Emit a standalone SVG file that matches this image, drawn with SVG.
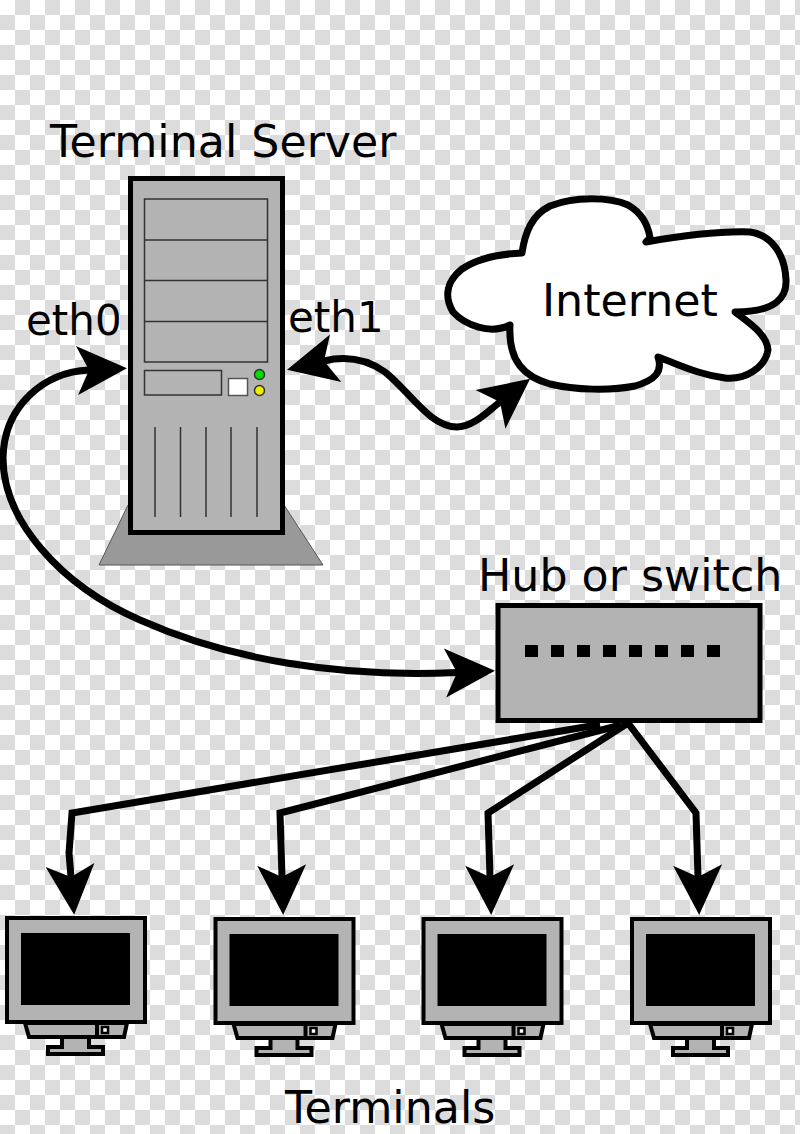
<svg xmlns="http://www.w3.org/2000/svg" xmlns:xlink="http://www.w3.org/1999/xlink" width="800" height="1134" viewBox="0 0 800 1134">
<style>
text{font-family:"DejaVu Sans",sans-serif;fill:#000}
.lbl{font-size:44.300px}
.eth{font-size:42px}
.body{fill:#b3b3b3;stroke:#000}
.thin{fill:none;stroke:#333;stroke-width:1.5}
.wire{fill:none;stroke:#000;stroke-width:7}
.mon{fill:#b3b3b3;stroke:#000;stroke-width:4}
</style>
<defs>
<pattern id="chk" width="30" height="30" patternUnits="userSpaceOnUse">
<rect width="30" height="30" fill="#fff"/>
<rect x="15" y="0" width="15" height="15" fill="#dcdcdc"/>
<rect x="0" y="15" width="15" height="15" fill="#dcdcdc"/>
</pattern>
<marker id="head" markerUnits="userSpaceOnUse" orient="auto-start-reverse" markerWidth="60" markerHeight="60" refX="14" refY="30" overflow="visible">
<path d="M52,30 L2,5.500 L14,30 L2,54.500 Z" fill="#000"/>
</marker>
<g id="monitor">
<rect class="mon" x="7" y="918" width="138" height="104"/>
<rect x="21" y="933" width="109" height="72" fill="#000"/>
<path class="mon" d="M25,1023 L29,1037 L124,1037 L127,1023 Z"/>
<path d="M97,1023 V1037" stroke="#000" stroke-width="4"/>
<rect x="102" y="1027" width="6" height="6" fill="#fff" stroke="#000" stroke-width="2.500"/>
<path class="mon" d="M62,1037 V1047 H48 V1054 H103 V1047 H89 V1037 Z"/>
</g>
</defs>
<rect id="background" width="800" height="1134" fill="url(#chk)"/>
<g id="connectors">
<path class="wire" marker-start="url(#head)" marker-end="url(#head)" d="M89,370 C45,372 4,405 3,458 C3,520 60,585 140,620 C230,660 340,678 457,672.500"/>
<path class="wire" marker-start="url(#head)" marker-end="url(#head)" d="M324,361 C345,356 365,358 385,372 C410,392 430,427 457,427 C473,427 487,412 500,402"/>
<path class="wire" marker-end="url(#head)" d="M600,724.500 L72,813 L69,853 L71,877"/>
<path class="wire" marker-end="url(#head)" d="M621,725 L280,813 L282,877"/>
<path class="wire" marker-end="url(#head)" d="M628,723 L488,813 L490,877"/>
<path class="wire" marker-end="url(#head)" d="M628,723 L696,813 L698,877"/>
</g>
<g id="server">
<path d="M128,505 L99,565 H323 L284,505 Z" fill="#999" stroke="#555" stroke-width="1"/>
<rect class="body" x="130.500" y="178.500" width="152" height="354" stroke-width="5"/>
<rect class="thin" x="144.500" y="199" width="123" height="163"/>
<path class="thin" d="M144.500,240 H267.500 M144.500,280.500 H267.500 M144.500,321.500 H267.500"/>
<rect class="thin" x="144.500" y="370.500" width="77" height="24.500"/>
<rect x="228.500" y="378.500" width="19" height="17" fill="#fff" stroke="#555" stroke-width="1.500"/>
<circle cx="259.500" cy="374.500" r="5" fill="#0d0" stroke="#333" stroke-width="1.500"/>
<circle cx="259.500" cy="390.500" r="5" fill="#ee0" stroke="#333" stroke-width="1.500"/>
<path class="thin" d="M155,427 V517 M180.500,427 V517 M206,427 V517 M231,427 V517 M257,427 V517"/>
</g>
<g id="internet">
<path fill="#fff" stroke="#000" stroke-width="7" stroke-linejoin="round" d="M522,253 C525,232 532,215 550,206 C575,196 610,197 628,205 C640,212 648,224 650,238 L646,242 C680,236 720,231 750,232 C772,235 785,255 786,280 C787,298 775,312 735,312 C752,325 767,335 768,350 C765,368 745,380 725,378 C700,375 680,365 658,357 C663,372 655,380 635,386 C610,391 575,390 550,384 C525,377 508,362 510,325 C490,335 465,325 453,312 C443,295 448,280 462,269 C478,258 500,254 522,253 Z"/>
<text class="lbl" x="542" y="316">Internet</text>
</g>
<g id="hub">
<rect class="body" x="498" y="605.500" width="262" height="115" stroke-width="5"/>
<g fill="#000">
<rect x="525" y="645" width="13" height="12"/><rect x="551" y="645" width="13" height="12"/><rect x="577" y="645" width="13" height="12"/><rect x="603" y="645" width="13" height="12"/><rect x="629" y="645" width="13" height="12"/><rect x="655" y="645" width="13" height="12"/><rect x="681" y="645" width="13" height="12"/><rect x="707" y="645" width="13" height="12"/>
</g>
</g>
<g id="terminal1"><use xlink:href="#monitor" href="#monitor"/></g>
<g id="terminal2"><use xlink:href="#monitor" href="#monitor" x="208.500" y="1"/></g>
<g id="terminal3"><use xlink:href="#monitor" href="#monitor" x="416.500" y="1"/></g>
<g id="terminal4"><use xlink:href="#monitor" href="#monitor" x="625" y="1"/></g>
<g id="labels">
<text class="lbl" x="50" y="157">Terminal Server</text>
<text class="eth" x="26" y="335">eth0</text>
<text class="eth" x="288" y="332">eth1</text>
<text class="lbl" x="478" y="591">Hub or switch</text>
<text class="lbl" x="285" y="1123">Terminals</text>
</g>
</svg>
